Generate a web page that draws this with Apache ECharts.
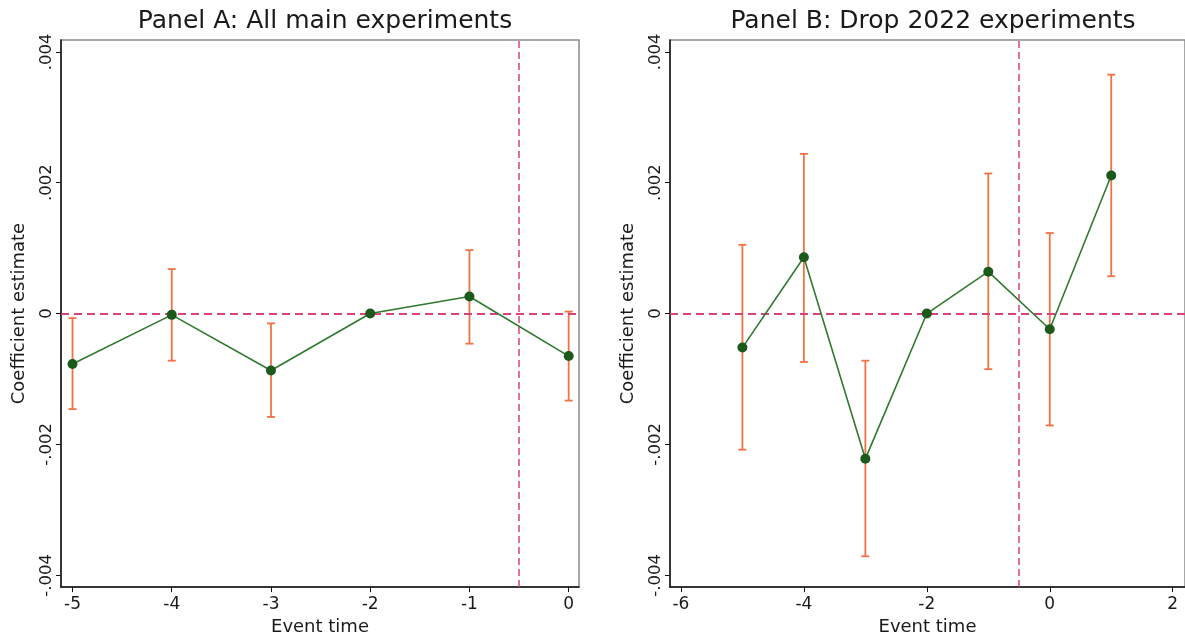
<!DOCTYPE html>
<html><head><meta charset="utf-8">
<script src="https://cdn.jsdelivr.net/npm/echarts@6/dist/echarts.min.js"></script>
<style>html,body{margin:0;padding:0;background:#fff;overflow:hidden}#c{width:1185px;height:641px}</style>
</head><body><div id="c"></div>
<script>
const eventTimeA = [-5, -4, -3, -2, -1, 0];
const coefA   = [-0.00077, -0.00002, -0.00087, 0, 0.00026, -0.00065];
const ciLowA  = [-0.00146, -0.00072, -0.00158, 0, -0.00046, -0.00133];
const ciHighA = [-0.00007, 0.00068, -0.00015, 0, 0.00097, 0.00003];

const eventTimeB = [-5, -4, -3, -2, -1, 0, 1];
const coefB   = [-0.00052, 0.00086, -0.00222, 0, 0.00064, -0.00024, 0.00211];
const ciLowB  = [-0.00208, -0.00074, -0.00371, 0, -0.00085, -0.00171, 0.00057];
const ciHighB = [0.00105, 0.00244, -0.00072, 0, 0.00214, 0.00123, 0.00365];

const yTicks = [-0.004, -0.002, 0, 0.002, 0.004];
const xTicksA = [-5, -4, -3, -2, -1, 0];
const xTicksB = [-6, -4, -2, 0, 2];
const titles = ['Panel A: All main experiments', 'Panel B: Drop 2022 experiments'];
const yTitle = 'Coefficient estimate';
const xTitle = 'Event time';
const refX = -0.5, refY = 0;

const FONT = 'DejaVu Sans';
const ERR = '#f07245', LINE = '#2f7a2f', MARK = '#1c5a1c', REF = '#d9437a';

function fmtY(v) {
  if (Math.abs(v) < 1e-12) return '0';
  return (v < 0 ? '-' : '') + Math.abs(v).toFixed(3).replace(/^0/, '');
}

const grids = [
  {left: 61, right: 606, top: 40, bottom: 52},
  {left: 670, right: -4, top: 40, bottom: 52}
];
const xRanges = [[-5.116, 0.104], [-6.178, 2.2]];
const xTicks = [xTicksA, xTicksB];

const option = {
  animation: false,
  backgroundColor: '#fff',
  textStyle: {fontFamily: FONT},
  title: titles.map((t, i) => ({
    text: t,
    left: i === 0 ? 320 : 928,
    textAlign: 'center',
    top: 4,
    textStyle: {fontFamily: FONT, fontSize: 25, fontWeight: 'normal', color: '#1a1a1a'}
  })),
  grid: grids.map(g => Object.assign({show: true, borderColor: '#8a8a8a', borderWidth: 1.5, backgroundColor: '#fff'}, g)),
  xAxis: [0, 1].map(i => ({
    type: 'value', gridIndex: i, min: xRanges[i][0], max: xRanges[i][1],
    name: xTitle, nameLocation: 'middle', nameGap: 29,
    nameTextStyle: {fontFamily: FONT, fontSize: 18, color: '#1a1a1a'},
    axisLine: {show: true, onZero: false, lineStyle: {color: '#111', width: 1.5}},
    axisTick: {show: true, length: 5, customValues: xTicks[i], lineStyle: {color: '#111'}},
    axisLabel: {customValues: xTicks[i], fontFamily: FONT, fontSize: 17, color: '#1a1a1a', margin: 9,
      formatter: v => String(v)},
    splitLine: {show: false}
  })),
  yAxis: [0, 1].map(i => ({
    type: 'value', gridIndex: i, min: -0.00418, max: 0.00418,
    name: yTitle, nameLocation: 'middle', nameGap: 33,
    nameTextStyle: {fontFamily: FONT, fontSize: 18, color: '#1a1a1a'},
    axisLine: {show: true, onZero: false, lineStyle: {color: '#111', width: 1.5}},
    axisTick: {show: true, length: 5, customValues: yTicks, lineStyle: {color: '#111'}},
    axisLabel: {customValues: yTicks, rotate: 90, fontFamily: FONT, fontSize: 16.5, color: '#1a1a1a', margin: 6,
      formatter: fmtY},
    splitLine: {show: false}
  })),
  series: []
};

function errSeries(i, xs, lo, hi) {
  return {
    type: 'custom', xAxisIndex: i, yAxisIndex: i, z: 3,
    data: xs.map((x, k) => [x, lo[k], hi[k]]),
    encode: {x: 0, y: [1, 2]},
    renderItem: function (params, api) {
      const x = api.value(0);
      const pLo = api.coord([x, api.value(1)]);
      const pHi = api.coord([x, api.value(2)]);
      const w = 4;
      const st = {stroke: ERR, lineWidth: 1.8};
      return {type: 'group', children: [
        {type: 'line', shape: {x1: pLo[0], y1: pLo[1], x2: pHi[0], y2: pHi[1]}, style: st},
        {type: 'line', shape: {x1: pLo[0] - w, y1: pLo[1], x2: pLo[0] + w, y2: pLo[1]}, style: st},
        {type: 'line', shape: {x1: pHi[0] - w, y1: pHi[1], x2: pHi[0] + w, y2: pHi[1]}, style: st}
      ]};
    }
  };
}
function refSeries(i) {
  return {
    type: 'line', xAxisIndex: i, yAxisIndex: i, data: [], z: 2,
    markLine: {
      silent: true, symbol: 'none', label: {show: false},
      data: [
        {yAxis: refY, lineStyle: {color: REF, width: 2, type: [8, 5]}},
        {xAxis: refX, lineStyle: {color: REF, width: 1.5, type: [7, 4]}}
      ]
    }
  };
}
function lineSeries(i, xs, ys) {
  return {
    type: 'line', xAxisIndex: i, yAxisIndex: i, z: 5,
    data: xs.map((x, k) => [x, ys[k]]),
    symbol: 'circle', symbolSize: 10, showSymbol: true,
    lineStyle: {color: LINE, width: 1.6},
    itemStyle: {color: MARK}
  };
}
option.series.push(refSeries(0), errSeries(0, eventTimeA, ciLowA, ciHighA), lineSeries(0, eventTimeA, coefA));
option.series.push(refSeries(1), errSeries(1, eventTimeB, ciLowB, ciHighB), lineSeries(1, eventTimeB, coefB));

const chart = echarts.init(document.getElementById('c'), null, {renderer: 'canvas'});
chart.setOption(option);
</script>
</body></html>
